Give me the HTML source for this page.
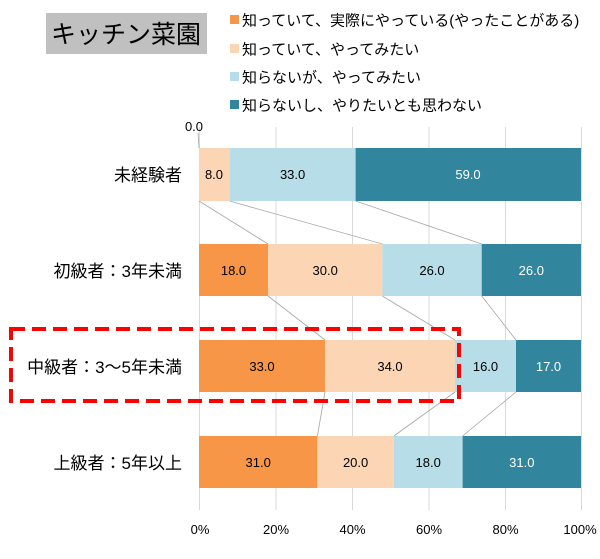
<!DOCTYPE html>
<html><head><meta charset="utf-8"><style>
body{margin:0;background:#fff;}
svg{display:block;font-family:"Liberation Sans","Noto Sans CJK JP",sans-serif;}
</style></head><body>
<svg width="600" height="559" viewBox="0 0 600 559" xmlns="http://www.w3.org/2000/svg">
<rect x="46" y="13" width="161" height="41" fill="#c0c0c0"/>
<text x="126" y="43" font-size="25" text-anchor="middle" fill="#000">キッチン菜園</text>
<g font-size="15" fill="#000">
<rect x="230" y="15" width="9" height="9" fill="#F79646"/><text x="242" y="25.5">知っていて、実際にやっている(やったことがある)</text>
<rect x="230" y="44" width="9" height="9" fill="#FCD5B5"/><text x="242" y="54.5">知っていて、やってみたい</text>
<rect x="230" y="72" width="9" height="9" fill="#B7DEE8"/><text x="242" y="82.5">知らないが、やってみたい</text>
<rect x="230" y="100" width="9" height="9" fill="#31859C"/><text x="242" y="110.5">知らないし、やりたいとも思わない</text>
</g>
<g stroke="#d9d9d9" stroke-width="1">
<line x1="199.5" y1="127" x2="199.5" y2="510"/>
<line x1="276" y1="127" x2="276" y2="510"/>
<line x1="352.5" y1="127" x2="352.5" y2="510"/>
<line x1="429" y1="127" x2="429" y2="510"/>
<line x1="505.5" y1="127" x2="505.5" y2="510"/>
<line x1="581.5" y1="127" x2="581.5" y2="510"/>
</g>
<g stroke="#a6a6a6" stroke-width="0.8">
<line x1="199" y1="201" x2="268" y2="244"/>
<line x1="229.6" y1="201" x2="382.4" y2="244"/>
<line x1="355.6" y1="201" x2="481.7" y2="244"/>
<line x1="268" y1="296" x2="325" y2="340"/>
<line x1="382.4" y1="296" x2="455" y2="340"/>
<line x1="481.7" y1="296" x2="516" y2="340"/>
<line x1="325" y1="392" x2="317.4" y2="436"/>
<line x1="455" y1="392" x2="393.8" y2="436"/>
<line x1="516" y1="392" x2="462.6" y2="436"/>
<line x1="198" y1="133" x2="199" y2="148"/>
</g>
<g font-size="13" text-anchor="middle">
<rect x="199" y="148" width="30.6" height="53" fill="#FCD5B5"/>
<rect x="229.6" y="148" width="126" height="53" fill="#B7DEE8"/>
<rect x="355.6" y="148" width="225.4" height="53" fill="#31859C"/>
<text x="214" y="179" fill="#000">8.0</text>
<text x="292.6" y="179" fill="#000">33.0</text>
<text x="468" y="179" fill="#fff">59.0</text>
<text x="194" y="131" fill="#000">0.0</text>
<rect x="199" y="244" width="69" height="52" fill="#F79646"/>
<rect x="268" y="244" width="114.4" height="52" fill="#FCD5B5"/>
<rect x="382.4" y="244" width="99.3" height="52" fill="#B7DEE8"/>
<rect x="481.7" y="244" width="99.3" height="52" fill="#31859C"/>
<text x="233.5" y="275">18.0</text><text x="325.2" y="275">30.0</text><text x="432" y="275">26.0</text><text x="531.3" y="275" fill="#fff">26.0</text>
<rect x="199" y="340" width="126" height="52" fill="#F79646"/>
<rect x="325" y="340" width="130" height="52" fill="#FCD5B5"/>
<rect x="455" y="340" width="61" height="52" fill="#B7DEE8"/>
<rect x="516" y="340" width="65" height="52" fill="#31859C"/>
<text x="262" y="371">33.0</text><text x="390" y="371">34.0</text><text x="485.5" y="371">16.0</text><text x="548.5" y="371" fill="#fff">17.0</text>
<rect x="199" y="436" width="118.4" height="52" fill="#F79646"/>
<rect x="317.4" y="436" width="76.4" height="52" fill="#FCD5B5"/>
<rect x="393.8" y="436" width="68.8" height="52" fill="#B7DEE8"/>
<rect x="462.6" y="436" width="118.4" height="52" fill="#31859C"/>
<text x="258.2" y="467">31.0</text><text x="355.6" y="467">20.0</text><text x="428.2" y="467">18.0</text><text x="521.8" y="467" fill="#fff">31.0</text>
</g>
<g font-size="17" text-anchor="end" fill="#000">
<text x="182" y="181">未経験者</text>
<text x="182" y="277">初級者：3年未満</text>
<text x="182" y="373">中級者：3～5年未満</text>
<text x="182" y="469">上級者：5年以上</text>
</g>
<g font-size="13" text-anchor="middle" fill="#000">
<text x="200" y="534">0%</text><text x="276" y="534">20%</text><text x="352.5" y="534">40%</text>
<text x="429" y="534">60%</text><text x="505.5" y="534">80%</text><text x="580" y="534">100%</text>
</g>
<rect x="11" y="329" width="448" height="72" fill="none" stroke="#ff0000" stroke-width="4" stroke-dasharray="14,7"/>
</svg>
</body></html>
